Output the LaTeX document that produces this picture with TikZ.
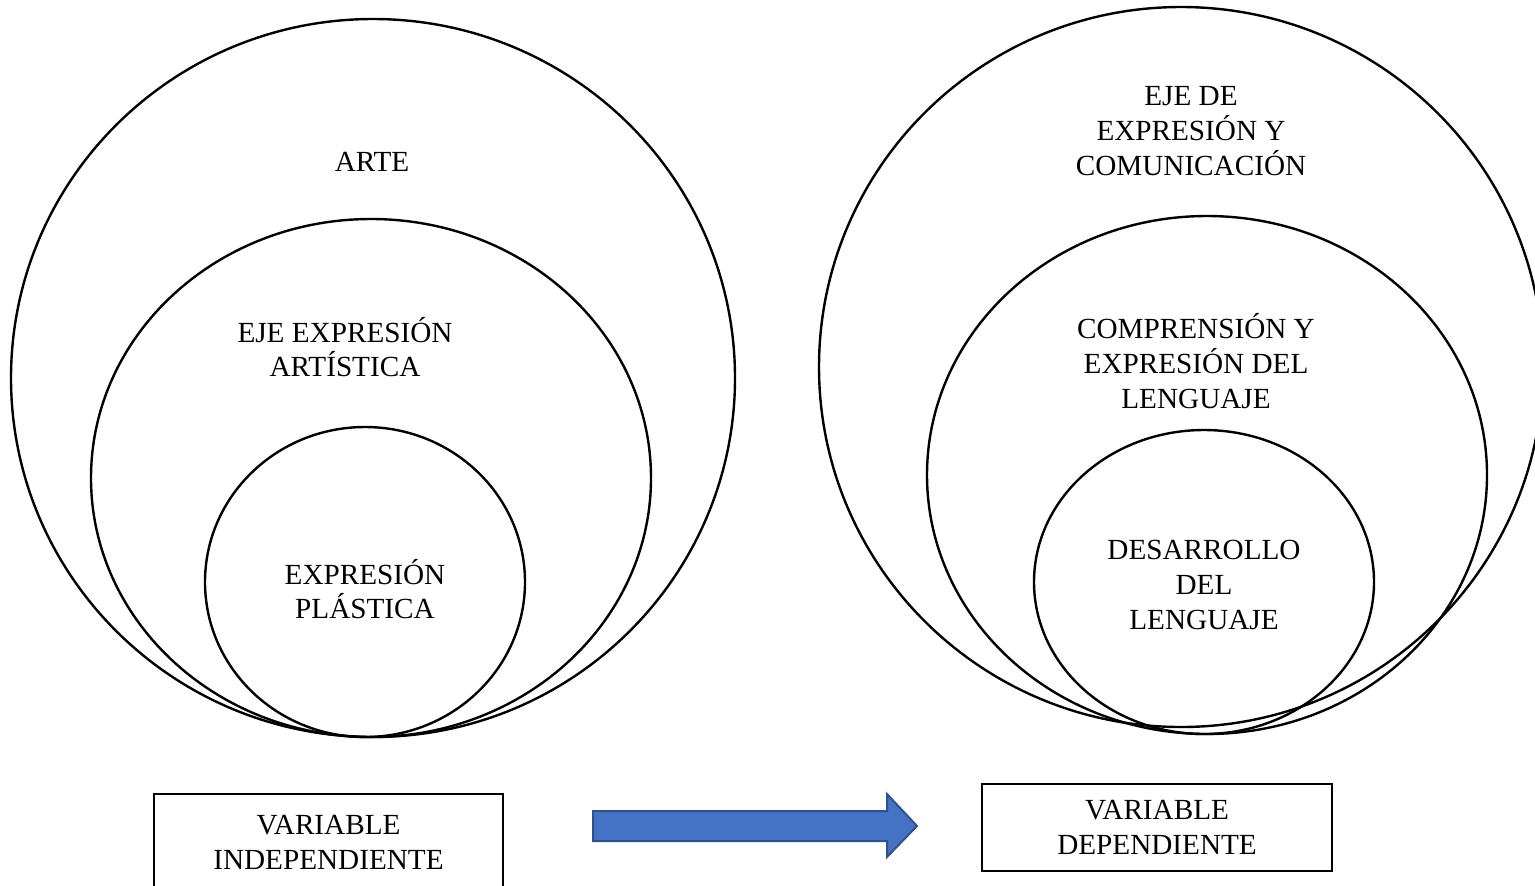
\documentclass[tikz,border=0pt]{standalone}
\usepackage{fontspec}
\setmainfont{Liberation Serif}
\usetikzlibrary{shapes,shapes.geometric}
\usetikzlibrary{positioning}
\definecolor{arrowblue}{HTML}{4472C4}
\definecolor{arrowedge}{HTML}{2F528F}
\tikzset{
  ring/.style={ellipse, draw, line width=1.2pt, inner sep=0pt},
  ringtext/.style={align=center, inner sep=0pt, font=\fontsize{14.6}{17.3}\selectfont},
  varbox/.style={draw, line width=1.2pt, align=center, inner sep=0pt,
    font=\fontsize{14.6}{17.3}\selectfont}
}

\begin{document}
\begin{tikzpicture}[x=0.5pt, y=-0.5pt]
        \useasboundingbox (0,0) rectangle (1535,885);
        % left set
        \node[ring, minimum width=362pt, minimum height=359pt] (arte) at (373,378) {};
        \node[ring, minimum width=280pt, minimum height=259pt] (ejeart) at (371,478) {};
        \node[ring, minimum width=160pt, minimum height=155pt] (plast) at (365,582) {};
        \node[ringtext] (artetxt) at (372,162) {ARTE};
        \node[ringtext] (ejearttxt) at (345,347) {EJE EXPRESIÓN\\ARTÍSTICA};
        \node[ringtext] (plasttxt) at (365,589) {EXPRESIÓN\\PLÁSTICA};

        % right set
        \node[ring, minimum width=362pt, minimum height=360pt] (ejecom) at (1181,367) {};
        \node[ring, minimum width=280pt, minimum height=259pt] (compr) at (1207,475) {};
        \node[ring, minimum width=170pt, minimum height=152pt] (desa) at (1204,582) {};
        \node[ringtext] (ejecomtxt) at (1191,131) {EJE DE\\EXPRESIÓN Y\\COMUNICACIÓN};
        \node[ringtext] (comprtxt) at (1196,361) {COMPRENSIÓN Y\\EXPRESIÓN DEL\\LENGUAJE};
        \node[ringtext] (desatxt) at (1204,585) {DESARROLLO\\DEL\\LENGUAJE};

        % variables
        \node[varbox, minimum width=174.5pt, minimum height=48.5pt] (indep) at (328.5,842.5) {VARIABLE\\INDEPENDIENTE};
        \node[varbox, minimum width=175pt, minimum height=43.5pt] (dep) at (1157,827.5) {VARIABLE\\DEPENDIENTE};

        % arrow
        \draw[fill=arrowblue, draw=arrowedge, line width=1pt, line join=miter]
          (593,811) -- (887,811) -- (887,794) -- (917,826) -- (887,857) -- (887,841) -- (593,841) -- cycle;
\end{tikzpicture}
\end{document}
